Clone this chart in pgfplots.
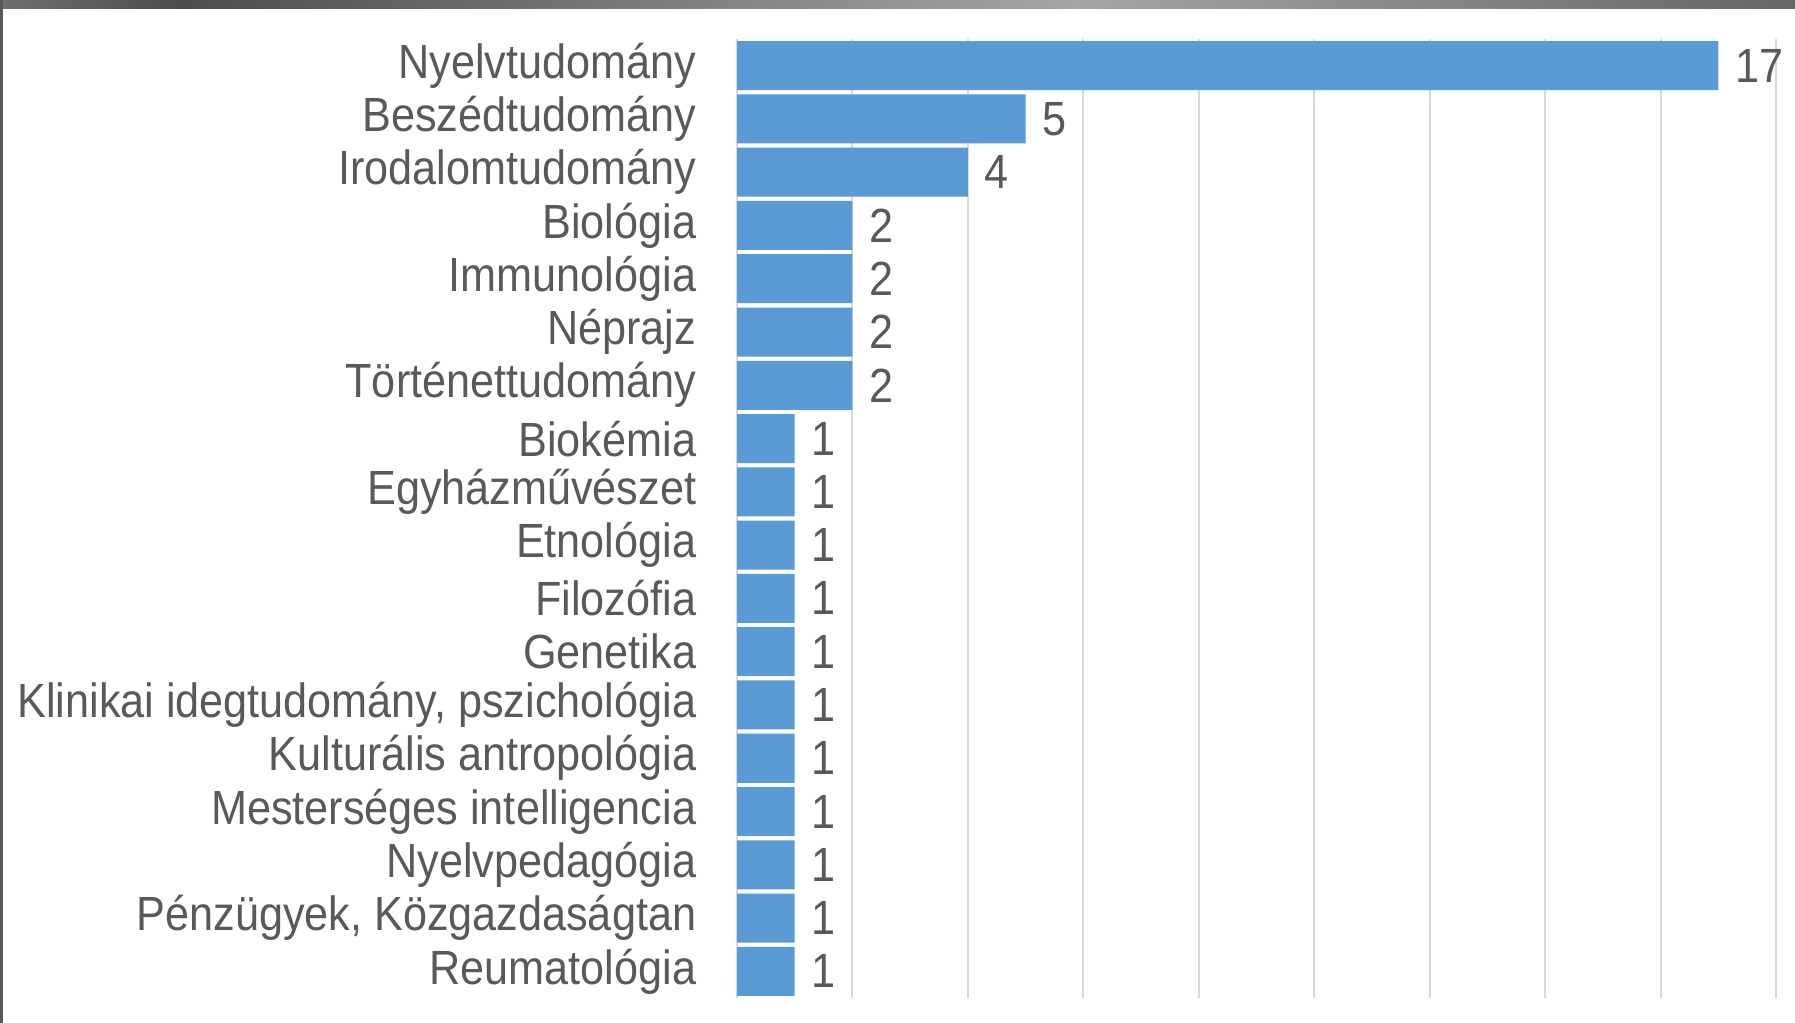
\documentclass[border=0pt]{standalone}
\usepackage{fontspec}
\setmainfont{Liberation Sans}[FakeStretch=0.9]
\usepackage{pgfplots}
\pgfplotsset{compat=1.18}
\definecolor{barblue}{HTML}{5B9BD5}
\definecolor{txtgray}{HTML}{595959}
\definecolor{gridgray}{HTML}{D9D9D9}
\pgfdeclarehorizontalshading{topband}{100bp}{
  color(0bp)=(black!70); color(17bp)=(black!35); color(30bp)=(black!70);
  color(55bp)=(black!35); color(75bp)=(black!60); color(100bp)=(black!60)}

\begin{document}
\begin{tikzpicture}[x=0.25pt,y=0.25pt]
\useasboundingbox (0,0) rectangle (1795,1023);
\fill[white] (0,0) rectangle (1795,1023);
\shade[shading=topband] (0,1014) rectangle (1795,1023);
\fill[black!65] (0,0) rectangle (3,1023);
\begin{axis}[
  at={(184.25pt,6.25pt)}, anchor=south west,
  scale only axis,
  width=259.75pt, height=239.75pt,
  xbar, bar width=0.92,
  xmin=0, xmax=18,
  ymin=-0.5, ymax=17.5,
  y dir=reverse,
  xtick={0,2,...,18}, xticklabels={},
  ytick={0,...,17},
  yticklabels={Nyelvtudomány,Beszédtudomány,Irodalomtudomány,Biológia,Immunológia,Néprajz,Történettudomány,Biokémia,Egyházművészet,Etnológia,Filozófia,Genetika,{Klinikai idegtudomány, pszichológia},Kulturális antropológia,Mesterséges intelligencia,Nyelvpedagógia,{Pénzügyek, Közgazdaságtan},Reumatológia},
  major tick length=0pt,
  xmajorgrids, grid style={gridgray, line width=0.5pt},
  axis line style={draw=none},
  yticklabel style={font=\fontsize{12}{14}\selectfont, text=txtgray, inner sep=0pt, anchor=east, xshift=-10pt},
  nodes near coords,
  /pgf/number format/assume math mode=true,
  nodes near coords style={font=\fontsize{12}{14}\selectfont, text=txtgray, anchor=west, inner sep=0pt, xshift=4pt},
  clip=false,
]
\addplot[fill=barblue, draw=none] coordinates {
  (17,0) (5,1) (4,2) (2,3) (2,4) (2,5) (2,6) (1,7) (1,8) (1,9)
  (1,10) (1,11) (1,12) (1,13) (1,14) (1,15) (1,16) (1,17)
};
\end{axis}
\end{tikzpicture}
\end{document}
